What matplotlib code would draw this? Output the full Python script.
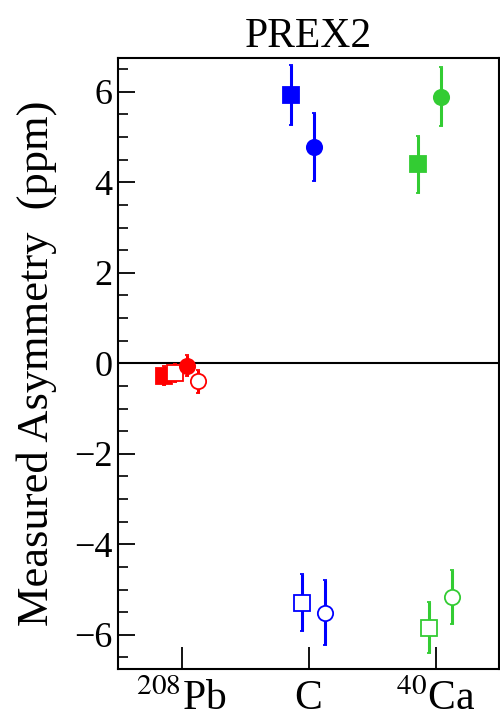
import numpy as np
import matplotlib
matplotlib.use('Agg')
import matplotlib.pyplot as plt

plt.rcParams['font.family'] = ['Liberation Serif', 'DejaVu Serif']
plt.rcParams['mathtext.fontset'] = 'stix'

# targets on the x axis
targets = ['$^{208}$Pb', 'C', '$^{40}$Ca']
pos = np.array([0, 1, 2])

# measured asymmetries (ppm) and errors, one series per marker style
filled_sq = [-0.27, 5.93, 4.40]
filled_sq_err = [0.22, 0.66, 0.63]
open_sq = [-0.22, -5.29, -5.84]
open_sq_err = [0.20, 0.63, 0.57]
filled_ci = [-0.05, 4.78, 5.89]
filled_ci_err = [0.24, 0.75, 0.65]
open_ci = [-0.40, -5.51, -5.16]
open_ci_err = [0.25, 0.72, 0.60]

colors = ['red', 'blue', '#33cc33']

fig = plt.figure(figsize=(5, 7.23), dpi=100)
ax = fig.add_axes([0.236, 0.075, 0.762, 0.845])

ax.axhline(0, color='black', lw=1.5, zorder=1)

series = [
    (filled_sq, filled_sq_err, 's', True, -0.134),
    (open_sq, open_sq_err, 's', False, -0.05),
    (filled_ci, filled_ci_err, 'o', True, 0.04),
    (open_ci, open_ci_err, 'o', False, 0.13),
]
for vals, errs, mk, filled, off in series:
    for i in range(3):
        c = colors[i]
        ax.errorbar(pos[i] + off, vals[i], yerr=errs[i], fmt=mk, color=c,
                    ms=11, mfc=c if filled else 'white', mec=c, mew=1.3,
                    elinewidth=2.2, capsize=1.5, capthick=3, zorder=3)

ax.set_xlim(-0.5, 2.5)
ax.set_ylim(-6.75, 6.75)
ax.set_xticks(pos)
ax.set_xticklabels(targets, fontsize=30)
ax.set_yticks([-6, -4, -2, 0, 2, 4, 6])
ax.set_yticks(np.arange(-6.5, 6.6, 0.5), minor=True)
ax.tick_params(axis='y', labelsize=26, direction='in', length=12, width=1.3, pad=4)
ax.tick_params(axis='y', which='minor', direction='in', length=7, width=1.2)
ax.tick_params(axis='x', direction='in', length=16, width=1.3, pad=8)
for s in ax.spines.values():
    s.set_linewidth(1.5)

ax.set_ylabel('Measured Asymmetry  (ppm)', fontsize=32, labelpad=12)
ax.set_title('PREX2', fontsize=30, pad=8)

fig.savefig('out.png', dpi=100)
